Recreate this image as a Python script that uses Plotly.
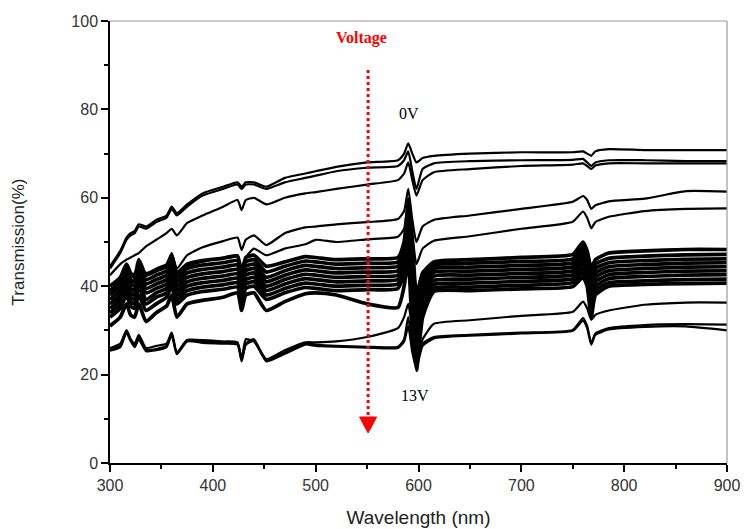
import plotly.graph_objects as go

# ---------------- data ----------------
wavelength = [300, 310, 316, 320, 324, 328, 335, 345, 355, 360, 365, 375, 390, 410,
              424, 428, 432, 440, 452, 470, 490, 500, 520, 550, 580, 586, 590, 594,
              598, 604, 615, 650, 700, 750, 760, 764, 768, 772, 785, 820, 860, 900]

curve_01 = [44.5, 48.0, 51.0, 52.0, 52.5, 54.0, 53.5, 55.0, 56.0, 58.0, 56.5, 58.5, 61.0, 62.5,
            63.5, 62.5, 63.5, 63.5, 62.5, 64.5, 65.5, 66.0, 67.0, 68.0, 68.5, 70.0, 72.3, 70.0,
            68.0, 69.0, 69.5, 70.0, 70.3, 70.3, 70.5, 70.0, 69.5, 70.5, 71.0, 70.8, 70.8, 70.8]
curve_02 = [44.0, 47.5, 50.5, 51.5, 52.0, 53.5, 53.0, 54.5, 55.5, 57.5, 56.0, 58.0, 60.5, 62.0,
            63.0, 62.0, 63.0, 63.0, 62.0, 63.5, 64.5, 65.0, 66.0, 66.8, 67.2, 68.5, 70.5, 66.0,
            62.0, 66.5, 67.8, 68.3, 68.5, 68.6, 68.8, 68.0, 67.2, 68.0, 68.5, 68.5, 68.3, 68.3]
curve_03 = [42.5, 45.0, 46.0, 46.5, 47.0, 47.5, 49.0, 50.5, 52.0, 53.0, 51.5, 54.3, 56.0, 58.0,
            59.5, 57.2, 59.5, 60.0, 58.5, 60.0, 61.0, 61.3, 62.0, 63.0, 64.0, 65.5, 68.0, 64.0,
            60.5, 64.0, 65.8, 66.5, 67.2, 67.5, 67.8, 67.2, 66.5, 67.3, 67.8, 67.8, 67.8, 67.8]
curve_04 = [40.0, 41.5, 44.0, 42.0, 43.0, 44.5, 43.0, 44.0, 45.0, 47.5, 44.0, 47.0, 48.8, 50.2,
            51.0, 48.2, 50.5, 51.5, 49.3, 52.0, 53.3, 53.5, 54.0, 54.5, 55.2, 57.0, 62.0, 55.0,
            50.0, 53.5, 55.0, 56.0, 57.5, 59.1, 60.4, 59.5, 57.5, 58.3, 59.2, 59.8, 61.5, 61.4]
curve_05 = [38.5, 40.0, 43.0, 40.5, 41.5, 43.0, 41.5, 42.5, 43.5, 46.0, 42.0, 44.5, 45.5, 46.5,
            47.0, 43.5, 46.5, 48.5, 47.0, 48.5, 49.5, 50.5, 50.0, 50.6, 51.2, 53.0, 60.0, 52.0,
            45.0, 48.5, 50.3, 51.3, 53.0, 54.6, 56.9, 55.5, 53.1, 54.5, 55.7, 57.0, 57.5, 57.6]
curve_06 = [40.0, 42.0, 45.0, 43.0, 42.0, 46.0, 42.5, 43.5, 44.5, 47.0, 43.0, 45.0, 45.8, 46.3,
            46.8, 43.0, 46.5, 47.0, 44.5, 45.5, 46.7, 46.5, 46.0, 46.2, 46.5, 50.0, 58.0, 50.0,
            38.0, 43.0, 45.5, 46.0, 46.5, 47.2, 50.0, 48.0, 44.0, 46.0, 47.5, 48.0, 48.3, 48.3]
curve_07 = [39.0, 41.0, 44.0, 41.5, 41.0, 45.0, 41.5, 42.5, 43.5, 46.0, 42.0, 44.0, 44.8, 45.3,
            45.8, 42.0, 45.5, 46.0, 43.2, 44.5, 45.7, 45.5, 45.0, 45.2, 45.5, 49.0, 57.0, 48.0,
            36.0, 42.0, 44.8, 45.2, 45.6, 46.2, 49.0, 47.0, 42.5, 45.0, 46.3, 46.8, 47.1, 47.2]
curve_08 = [38.0, 40.0, 43.0, 40.5, 40.0, 44.0, 40.5, 41.5, 42.5, 45.0, 41.0, 43.0, 43.8, 44.3,
            44.8, 41.0, 44.5, 45.0, 42.0, 43.5, 44.7, 44.5, 44.0, 44.2, 44.5, 48.0, 56.0, 46.0,
            34.0, 41.0, 44.0, 44.3, 44.7, 45.3, 48.0, 46.0, 41.0, 44.0, 45.3, 45.8, 46.1, 46.2]
curve_09 = [37.0, 39.0, 42.0, 39.5, 39.0, 43.0, 39.5, 40.5, 41.5, 44.0, 40.0, 42.0, 42.8, 43.3,
            43.8, 40.0, 43.5, 44.0, 41.0, 42.5, 43.7, 43.5, 43.0, 43.2, 43.5, 47.0, 55.0, 44.0,
            32.0, 40.0, 43.2, 43.4, 43.8, 44.4, 47.0, 45.0, 40.0, 43.0, 44.4, 44.9, 45.2, 45.3]
curve_10 = [36.0, 38.0, 41.0, 38.5, 38.0, 42.0, 38.5, 39.5, 40.5, 43.0, 39.0, 41.0, 41.8, 42.3,
            42.8, 39.0, 42.5, 43.0, 40.0, 41.5, 42.7, 42.5, 42.0, 42.2, 42.5, 46.0, 54.0, 42.0,
            30.0, 39.0, 42.3, 42.5, 42.9, 43.5, 46.0, 44.0, 38.5, 42.0, 43.5, 44.0, 44.3, 44.4]
curve_11 = [35.0, 37.0, 40.0, 37.5, 37.0, 41.0, 37.0, 38.5, 39.5, 42.0, 38.0, 40.0, 40.8, 41.3,
            41.8, 38.0, 41.5, 42.0, 39.0, 40.5, 41.7, 41.5, 41.0, 41.2, 41.5, 45.0, 52.0, 40.0,
            28.0, 38.0, 41.3, 41.6, 42.0, 42.6, 45.0, 43.0, 37.0, 41.0, 42.6, 43.1, 43.4, 43.5]
curve_12 = [34.0, 36.0, 39.0, 36.5, 36.0, 40.0, 36.0, 37.5, 38.5, 41.0, 37.0, 39.0, 39.8, 40.3,
            40.8, 37.0, 40.5, 41.0, 38.0, 39.5, 40.7, 40.5, 40.0, 40.2, 40.5, 44.0, 50.0, 38.0,
            26.0, 37.0, 40.4, 40.7, 41.1, 41.7, 44.0, 42.0, 36.0, 40.0, 41.7, 42.2, 42.5, 42.6]
curve_13 = [33.0, 35.0, 38.0, 35.5, 35.0, 38.0, 34.5, 36.0, 37.5, 40.0, 36.0, 38.0, 38.8, 39.3,
            39.8, 36.0, 39.5, 40.0, 37.0, 38.5, 39.7, 39.5, 39.0, 39.2, 39.5, 43.0, 48.0, 36.0,
            24.0, 35.0, 39.5, 39.8, 40.2, 40.8, 43.0, 41.0, 34.5, 39.0, 40.8, 41.2, 41.5, 41.6]
curve_14 = [31.0, 33.0, 36.0, 33.5, 33.0, 36.0, 32.0, 34.0, 35.5, 38.0, 33.0, 36.0, 36.8, 37.5,
            38.5, 34.5, 38.0, 38.5, 34.5, 36.5, 38.3, 38.5, 38.0, 36.0, 35.2, 40.0, 46.0, 30.0,
            21.0, 33.0, 38.8, 39.0, 39.4, 39.9, 42.0, 40.0, 33.0, 38.0, 40.0, 40.4, 40.6, 40.7]
curve_15 = [26.0, 27.0, 30.0, 28.0, 27.0, 29.0, 26.0, 26.5, 27.0, 29.5, 25.0, 27.8, 27.8, 27.5,
            27.3, 23.5, 28.0, 27.5, 23.5, 25.5, 27.3, 27.3, 27.5, 28.5, 30.5, 33.0, 36.0, 30.0,
            23.0, 28.0, 31.5, 32.3, 33.3, 34.2, 36.5, 35.0, 32.4, 33.5, 34.5, 35.8, 36.3, 36.3]
curve_16 = [25.6, 26.5, 30.0, 28.0, 26.5, 28.5, 25.6, 25.8, 26.5, 29.4, 24.9, 27.8, 27.5, 27.3,
            27.1, 23.3, 27.0, 28.0, 23.3, 25.0, 27.1, 26.8, 26.5, 26.3, 26.3, 28.0, 33.0, 26.0,
            22.5, 27.0, 28.5, 29.0, 29.5, 30.1, 32.8, 31.0, 27.1, 29.3, 30.5, 31.2, 31.4, 31.3]
curve_17 = [25.4, 26.2, 29.5, 27.6, 26.2, 28.0, 25.3, 25.5, 26.2, 29.0, 24.6, 27.5, 27.2, 27.0,
            26.8, 23.0, 26.7, 27.6, 23.0, 24.7, 26.8, 26.5, 26.3, 26.1, 26.0, 27.5, 31.0, 25.0,
            21.5, 26.5, 28.2, 28.8, 29.3, 29.9, 32.2, 30.5, 26.8, 29.0, 30.2, 30.8, 30.9, 30.0]

outer_curves = [curve_01, curve_02, curve_03, curve_04, curve_05, curve_15, curve_16, curve_17]
band_curves = [curve_06, curve_07, curve_08, curve_09, curve_10, curve_11, curve_12, curve_13, curve_14]

x_ticks = [300, 400, 500, 600, 700, 800, 900]
y_ticks = [0, 20, 40, 60, 80, 100]

# annotation anchors (data coordinates)
arrow_x = 551
arrow_top = 88.9
arrow_bottom = 10.4
arrow_tip = 6.8
arrow_half = 8.3

for c in outer_curves + band_curves:
    assert len(c) == len(wavelength)

fig = go.Figure()
for c in outer_curves:
    fig.add_trace(go.Scatter(x=wavelength, y=c, mode="lines",
                             line=dict(color="black", width=2.2, shape="spline", smoothing=0.5),
                             showlegend=False, hoverinfo="skip"))
for c in band_curves:
    fig.add_trace(go.Scatter(x=wavelength, y=c, mode="lines",
                             line=dict(color="black", width=3.7, shape="spline", smoothing=0.5),
                             showlegend=False, hoverinfo="skip"))

tick_font = dict(family="Liberation Sans, Arial, sans-serif", size=16, color="#333333")

fig.update_xaxes(range=[300, 900], tickmode="array", tickvals=x_ticks, automargin=False,
                 ticks="outside", ticklen=7, tickwidth=1.5, tickcolor="black",
                 minor=dict(dtick=50, ticks="outside", ticklen=4, tickwidth=1.5, tickcolor="black"),
                 showline=True, linecolor="black", linewidth=1.5,
                 showgrid=False, zeroline=False, tickfont=tick_font,
                 title=dict(text="Wavelength (nm)", standoff=18,
                            font=dict(family="Liberation Sans, Arial, sans-serif", size=19, color="#222222")))
fig.update_yaxes(range=[0, 100], tickmode="array", tickvals=y_ticks, automargin=False,
                 ticks="outside", ticklen=7, tickwidth=1.5, tickcolor="black",
                 minor=dict(dtick=10, ticks="outside", ticklen=4, tickwidth=1.5, tickcolor="black"),
                 showline=True, linecolor="black", linewidth=1.5,
                 showgrid=False, zeroline=False, tickfont=tick_font,
                 title=dict(text="Transmission(%)", standoff=42,
                            font=dict(family="Liberation Sans, Arial, sans-serif", size=17, color="#222222")))

# gray top / right frame
fig.add_shape(type="line", xref="paper", yref="paper", x0=0, x1=1, y0=1, y1=1,
              line=dict(color="#9a9a9a", width=1.2))
fig.add_shape(type="line", xref="paper", yref="paper", x0=1, x1=1, y0=0, y1=1,
              line=dict(color="#9a9a9a", width=1.2))

# red dotted voltage arrow
fig.add_shape(type="line", xref="x", yref="y", x0=arrow_x, x1=arrow_x,
              y0=arrow_top, y1=arrow_bottom, line=dict(color="#ff0000", width=3, dash="dot"))
fig.add_shape(type="path", xref="x", yref="y",
              path=f"M {arrow_x - arrow_half},{arrow_bottom} L {arrow_x + arrow_half},{arrow_bottom} L {arrow_x},{arrow_tip} Z",
              fillcolor="#ff0000", line=dict(color="#ff0000", width=1))

serif = "Liberation Serif, Times New Roman, serif"
fig.add_annotation(x=545, y=96.2, text="<b>Voltage</b>", showarrow=False,
                   font=dict(family=serif, size=16, color="#ff0000"))
fig.add_annotation(x=591, y=79.1, text="0V", showarrow=False,
                   font=dict(family=serif, size=16, color="black"))
fig.add_annotation(x=596.5, y=15.2, text="13V", showarrow=False,
                   font=dict(family=serif, size=16, color="black"))

fig.update_layout(width=744, height=529, margin=dict(l=110, r=17, t=21, b=66),
                  plot_bgcolor="white", paper_bgcolor="white")

# remove the default 8px page margin so the figure fills the window exactly
fig.write_html("out.html", config={"displayModeBar": False},
               post_script="document.body.style.margin='0';document.body.style.overflow='hidden';")
